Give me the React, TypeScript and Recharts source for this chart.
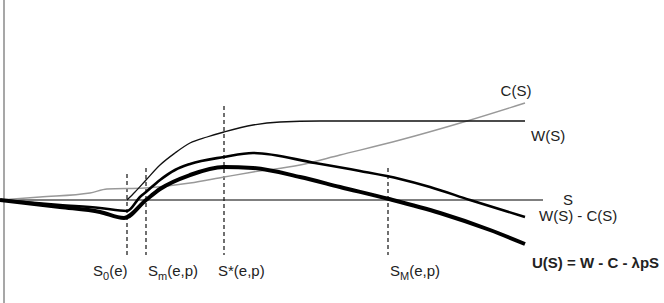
import React from "react";
import { LineChart, Line, XAxis, YAxis, ReferenceLine, LabelList } from "recharts";

// S positions and values (value = height above the S axis)
const costS = [0, 40, 90, 107, 145, 190, 224, 253, 300, 340, 400, 467, 525];
const costV = [0, 3, 7, 11, 12, 17, 23, 28, 35, 45, 60, 79, 97];

const wS = [127, 135, 146, 160, 175, 190, 207, 224, 253, 280, 320, 525];
const wV = [0, 8, 20, 35, 47, 57, 63, 68, 75, 78, 79, 79];

const netS = [0, 60, 100, 127, 140, 146, 160, 175, 190, 224, 253, 315, 360, 400, 430, 470, 525];
const netV = [0, -5, -8, -11, 3, 8, 20, 30, 36, 43, 47, 37, 29, 21, 13, 0, -17];

const utilS = [0, 60, 100, 124, 146, 160, 190, 224, 253, 300, 340, 389, 440, 490, 525];
const utilV = [0, -7, -12, -18, 0, 11, 25, 33, 32, 23, 13, 1, -13, -30, -44];

// dashed markers on the S axis
const markerS = [127, 146, 224, 388];
const markerTop = [26, 32, 94, 32];
const markerBottom = [-58, -55, -55, -55];
const markerMain = ["S", "S", "S*", "S"];
const markerSub = ["0", "m", "", "M"];
const markerTail = ["(e)", "(e,p)", "(e,p)", "(e,p)"];

const axisEnd = 543;

const font = "'Liberation Sans', Arial, sans-serif";
const labelDx = [-34, 2, -6, 2];
const labelDy = [18, 21, 21, 21];

const toRows = (s: number[], v: number[]) => s.map((x, i) => ({ s: x, v: v[i] }));

const endLabel = (text: string, last: number, dx: number, dy: number, anchor = "start", bold = false) =>
  (p: any) =>
    p.index === last ? (
      <text
        x={Number(p.x) + dx}
        y={Number(p.y) + dy}
        textAnchor={anchor}
        fontFamily={font}
        fontSize={15}
        fontWeight={bold ? "bold" : "normal"}
        fill="#222"
      >
        {text}
      </text>
    ) : (
      <g />
    );

export default function App() {
  const cost = toRows(costS, costV);
  const w = toRows(wS, wV);
  const net = toRows(netS, netV);
  const util = toRows(utilS, utilV);

  const lineProps = { type: "monotone" as const, dataKey: "v", dot: false, activeDot: false, isAnimationActive: false };

  return (
    <div style={{ position: "absolute", left: 0, top: 0, background: "#fff" }}>
      <LineChart width={664} height={303} margin={{ top: 0, right: 0, bottom: 0, left: 0 }}>
        <XAxis type="number" dataKey="s" domain={[0, 664]} hide allowDataOverflow />
        <YAxis type="number" dataKey="v" domain={[-103, 200]} hide allowDataOverflow />

        <ReferenceLine x={4} stroke="#8a8a8a" strokeWidth={1.5} />
        <ReferenceLine
          segment={[{ x: 0, y: 0 }, { x: axisEnd, y: 0 }]}
          stroke="#555"
          strokeWidth={1.5}
          label={(p: any) => (
            <text
              x={p.viewBox.x + p.viewBox.width + 20}
              y={p.viewBox.y + 5}
              fontFamily={font}
              fontSize={15}
              fill="#222"
            >
              S
            </text>
          )}
        />

        {markerS.map((s, i) => (
          <ReferenceLine
            key={i}
            segment={[{ x: s, y: markerTop[i] }, { x: s, y: markerBottom[i] }]}
            stroke="#111"
            strokeWidth={1.2}
            strokeDasharray="4 3"
            label={(p: any) => (
              <text
                x={p.viewBox.x + labelDx[i]}
                y={p.viewBox.y + p.viewBox.height + labelDy[i]}
                fontFamily={font}
                fontSize={15}
                fill="#222"
              >
                <tspan>{markerMain[i]}</tspan>
                {markerSub[i] && (
                  <tspan dy={4} fontSize={11}>
                    {markerSub[i]}
                  </tspan>
                )}
                <tspan dy={markerSub[i] ? -4 : 0}>{markerTail[i]}</tspan>
              </text>
            )}
          />
        ))}

        <Line {...lineProps} data={cost} stroke="#999" strokeWidth={1.4}>
          <LabelList dataKey="v" content={endLabel("C(S)", cost.length - 1, -9, -7, "middle")} />
        </Line>
        <Line {...lineProps} data={w} stroke="#111" strokeWidth={1.3}>
          <LabelList dataKey="v" content={endLabel("W(S)", w.length - 1, 6, 20)} />
        </Line>
        <Line {...lineProps} data={net} stroke="#000" strokeWidth={2.6}>
          <LabelList dataKey="v" content={endLabel("W(S) - C(S)", net.length - 1, 14, 4)} />
        </Line>
        <Line {...lineProps} data={util} stroke="#000" strokeWidth={4}>
          <LabelList dataKey="v" content={endLabel("U(S) = W - C - λpS", util.length - 1, 7, 24, "start", true)} />
        </Line>
      </LineChart>
    </div>
  );
}
